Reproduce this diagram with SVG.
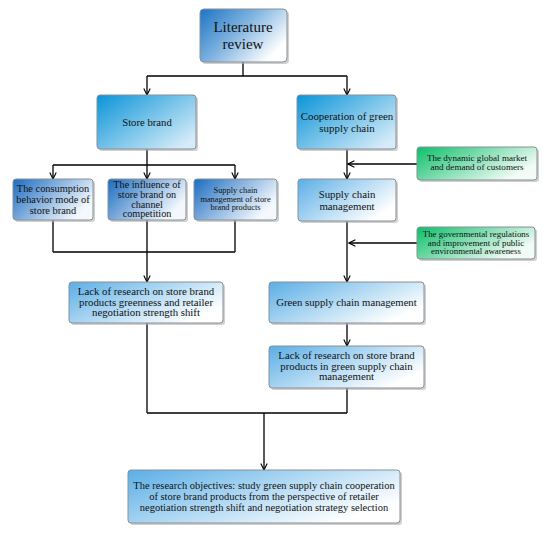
<svg xmlns="http://www.w3.org/2000/svg" width="550" height="533" viewBox="0 0 550 533">
<style>
.box{stroke:#8a8f96;stroke-width:1}
.sh{fill:#b0b0b0;opacity:0.6}
.t{font-family:"Liberation Serif","DejaVu Serif",serif;fill:#111;text-anchor:middle}
.ln{fill:none;stroke:#000;stroke-width:1.3}
</style>
<defs>
<linearGradient id="gLit" x1="0" y1="0" x2="1" y2="0.6">
<stop offset="0" stop-color="#1d74c4"/><stop offset="0.5" stop-color="#7fb3e0"/><stop offset="1" stop-color="#ffffff"/>
</linearGradient>
<linearGradient id="gBlue" x1="0" y1="0" x2="1" y2="0.8">
<stop offset="0" stop-color="#0a94d8"/><stop offset="1" stop-color="#d6ecf9"/>
</linearGradient>
<linearGradient id="gDeep" x1="0" y1="0" x2="1" y2="0.5">
<stop offset="0" stop-color="#1a6cc0"/><stop offset="1" stop-color="#f4f8fd"/>
</linearGradient>
<linearGradient id="gLight" x1="0" y1="0" x2="1" y2="0.6">
<stop offset="0" stop-color="#5aaee6"/><stop offset="1" stop-color="#ffffff"/>
</linearGradient>
<linearGradient id="gGreen" x1="0" y1="0" x2="1" y2="0.5">
<stop offset="0" stop-color="#0cbf6a"/><stop offset="1" stop-color="#f2fbf6"/>
</linearGradient>
<marker id="ah" viewBox="0 0 10 10" refX="9" refY="5" markerWidth="8" markerHeight="8" markerUnits="userSpaceOnUse" orient="auto">
<path d="M1,1 L9,5 L1,9" fill="none" stroke="#000" stroke-width="1.4"/>
</marker>
</defs>

<g id="connectors">
<path class="ln" d="M243,62 V76 M147,76 H347"/>
<path class="ln" d="M147,76 V95" marker-end="url(#ah)"/>
<path class="ln" d="M347,76 V95" marker-end="url(#ah)"/>
<path class="ln" d="M147,149 V165 M53,165 H235"/>
<path class="ln" d="M53,165 V179" marker-end="url(#ah)"/>
<path class="ln" d="M147,165 V179" marker-end="url(#ah)"/>
<path class="ln" d="M235,165 V179" marker-end="url(#ah)"/>
<path class="ln" d="M53,220 V252 M147,220 V252 M235,220 V252 M53,252 H235"/>
<path class="ln" d="M147,252 V282" marker-end="url(#ah)"/>
<path class="ln" d="M347,149 V179" marker-end="url(#ah)"/>
<path class="ln" d="M417,164 H348" marker-end="url(#ah)"/>
<path class="ln" d="M347,221 V282" marker-end="url(#ah)"/>
<path class="ln" d="M417,243 H349" marker-end="url(#ah)"/>
<path class="ln" d="M347,323 V346" marker-end="url(#ah)"/>
<path class="ln" d="M147,323 V413 M347,388 V413 M147,413 H347"/>
<path class="ln" d="M264,413 V470" marker-end="url(#ah)"/>
</g>

<g id="n-literature">
<rect class="sh" x="202" y="11" width="87" height="53" rx="4"/>
<rect class="box" x="200" y="9" width="87" height="53" rx="4" fill="url(#gLit)"/>
<text class="t" x="243" y="32" font-size="15">Literature</text>
<text class="t" x="243" y="49" font-size="15">review</text>
</g>

<g id="n-storebrand">
<rect class="sh" x="99" y="97" width="99" height="54" rx="3"/>
<rect class="box" x="97" y="95" width="99" height="54" rx="3" fill="url(#gBlue)"/>
<text class="t" x="147" y="126" font-size="10.7">Store brand</text>
</g>

<g id="n-cooperation">
<rect class="sh" x="299" y="97" width="99" height="54" rx="3"/>
<rect class="box" x="297" y="95" width="99" height="54" rx="3" fill="url(#gBlue)"/>
<text class="t" x="347" y="120" font-size="10.9">Cooperation of green</text>
<text class="t" x="347" y="131.5" font-size="10.9">supply chain</text>
</g>

<g id="n-consumption">
<rect class="sh" x="15" y="181" width="80" height="41" rx="3"/>
<rect class="box" x="13" y="179" width="80" height="41" rx="3" fill="url(#gDeep)"/>
<text class="t" x="53" y="192" font-size="10.4">The consumption</text>
<text class="t" x="53" y="203" font-size="10.4">behavior mode of</text>
<text class="t" x="53" y="214" font-size="10.4">store brand</text>
</g>

<g id="n-influence">
<rect class="sh" x="110" y="181" width="78" height="41" rx="3"/>
<rect class="box" x="108" y="179" width="78" height="41" rx="3" fill="url(#gDeep)"/>
<text class="t" x="147" y="188" font-size="10.2">The influence of</text>
<text class="t" x="147" y="198" font-size="10.2">store brand on</text>
<text class="t" x="147" y="207.5" font-size="10.2">channel</text>
<text class="t" x="147" y="217" font-size="10.2">competition</text>
</g>

<g id="n-scm-store">
<rect class="sh" x="196" y="181" width="83" height="41" rx="3"/>
<rect class="box" x="194" y="179" width="83" height="41" rx="3" fill="url(#gDeep)"/>
<text class="t" x="235.5" y="193" font-size="8.4">Supply chain</text>
<text class="t" x="235.5" y="201.5" font-size="8.4">management of store</text>
<text class="t" x="235.5" y="210" font-size="8.4">brand products</text>
</g>

<g id="n-scm">
<rect class="sh" x="300" y="181" width="98" height="42" rx="3"/>
<rect class="box" x="298" y="179" width="98" height="42" rx="3" fill="url(#gLight)"/>
<text class="t" x="347" y="198" font-size="10.8">Supply chain</text>
<text class="t" x="347" y="210" font-size="10.8">management</text>
</g>

<g id="n-dynamic">
<rect class="sh" x="419" y="149" width="120" height="33" rx="3"/>
<rect class="box" x="417" y="147" width="120" height="33" rx="3" fill="url(#gGreen)"/>
<text class="t" x="477" y="161" font-size="9.1">The dynamic  global market</text>
<text class="t" x="477" y="170" font-size="9.1">and demand of customers</text>
</g>

<g id="n-governmental">
<rect class="sh" x="419" y="229" width="118" height="32" rx="3"/>
<rect class="box" x="417" y="227" width="118" height="32" rx="3" fill="url(#gGreen)"/>
<text class="t" x="476" y="237" font-size="8.9">The governmental regulations</text>
<text class="t" x="476" y="245.5" font-size="8.9">and improvement of public</text>
<text class="t" x="476" y="254" font-size="8.9">environmental awareness</text>
</g>

<g id="n-lack-left">
<rect class="sh" x="71" y="284" width="154" height="41" rx="3"/>
<rect class="box" x="69" y="282" width="154" height="41" rx="3" fill="url(#gLight)"/>
<text class="t" x="146" y="295" font-size="10.8">Lack of research on store brand</text>
<text class="t" x="146" y="305.5" font-size="10.8">products greenness and retailer</text>
<text class="t" x="146" y="316" font-size="10.8">negotiation strength shift</text>
</g>

<g id="n-gscm">
<rect class="sh" x="271" y="284" width="155" height="41" rx="3"/>
<rect class="box" x="269" y="282" width="155" height="41" rx="3" fill="url(#gLight)"/>
<text class="t" x="346.5" y="306" font-size="10.7">Green supply chain management</text>
</g>

<g id="n-lack-right">
<rect class="sh" x="271" y="348" width="155" height="42" rx="3"/>
<rect class="box" x="269" y="346" width="155" height="42" rx="3" fill="url(#gLight)"/>
<text class="t" x="346.5" y="359" font-size="10.8">Lack of research on store brand</text>
<text class="t" x="346.5" y="369.5" font-size="10.8">products in green supply chain</text>
<text class="t" x="346.5" y="380" font-size="10.8">management</text>
</g>

<g id="n-objectives">
<rect class="sh" x="130" y="472" width="272" height="53" rx="3"/>
<rect class="box" x="128" y="470" width="272" height="53" rx="3" fill="url(#gLight)"/>
<text class="t" x="264" y="489" font-size="10.5">The research objectives:  study green supply chain cooperation</text>
<text class="t" x="264" y="500" font-size="10.5">of store brand products from the perspective of retailer</text>
<text class="t" x="264" y="511" font-size="10.5">negotiation strength shift and negotiation strategy selection</text>
</g>
</svg>
